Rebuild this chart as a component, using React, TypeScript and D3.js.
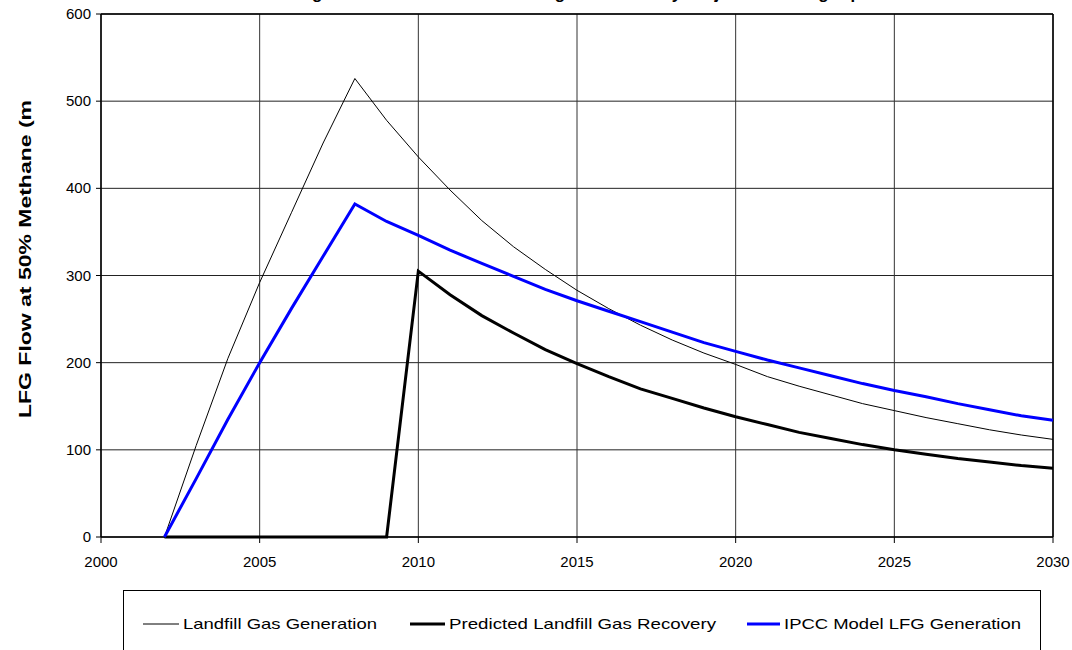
import React from "react";
import * as d3 from "d3";

const years = d3.range(2002, 2031);
const generation = [0, 105, 205, 292, 372, 452, 526, 478, 436, 398, 363, 333, 307, 283, 262, 243, 226, 211, 198, 184, 173, 163, 153, 145, 137, 130, 123, 117, 112];
const recovery = [0, 0, 0, 0, 0, 0, 0, 0, 305, 278, 254, 234, 215, 199, 184, 170, 159, 148, 138, 129, 120, 113, 106, 100, 95, 90, 86, 82, 79];
const ipcc = [0, 67, 135, 200, 262, 322, 382, 362, 346, 329, 314, 299, 284, 271, 259, 247, 235, 223, 213, 203, 194, 185, 176, 168, 161, 153, 146, 139, 134];
const xTicks = [2000, 2005, 2010, 2015, 2020, 2025, 2030];
const yTicks = [0, 100, 200, 300, 400, 500, 600];
const seriesNames = ["Landfill Gas Generation", "Predicted Landfill Gas Recovery", "IPCC Model LFG Generation"];

export default function App() {
  const W = 1072, H = 650;
  const x = d3.scaleLinear().domain([2000, 2030]).range([101, 1053]);
  const y = d3.scaleLinear().domain([0, 600]).range([537, 14]);
  const line = (vals: number[]) =>
    d3.line<number>().x((_, i) => x(years[i])).y((d) => y(d))(vals) || "";
  const font = "'Liberation Sans', Arial, sans-serif";
  const series = [
    { name: seriesNames[0], vals: generation, color: "#000", w: 1, lx: 143, tx: 183, tw: 194 },
    { name: seriesNames[1], vals: recovery, color: "#000", w: 3, lx: 410, tx: 449, tw: 267 },
    { name: seriesNames[2], vals: ipcc, color: "#0000ff", w: 3, lx: 747, tx: 784, tw: 237 },
  ];
  return (
    <svg width={W} height={H} style={{ position: "absolute", left: 0, top: 0, background: "#fff" }}>
      <rect x={0} y={0} width={W} height={H} fill="#fff" />
      <text x={576} y={-1} textAnchor="middle" fontFamily={font} fontWeight="bold" fontSize={17}>
        Figure 3: Landfill Gas Generating and Recovery Projections using Eq
      </text>
      {/* grid */}
      {yTicks.map((t) => (
        <line key={"gy" + t} x1={x(2000)} x2={x(2030)} y1={y(t)} y2={y(t)} stroke="#222" strokeWidth={1} />
      ))}
      {xTicks.map((t) => (
        <line key={"gx" + t} x1={x(t)} x2={x(t)} y1={y(0)} y2={y(600)} stroke="#333" strokeWidth={1} />
      ))}
      {/* frame */}
      <line x1={x(2000)} x2={x(2030)} y1={y(600)} y2={y(600)} stroke="#000" strokeWidth={1.5} />
      <line x1={x(2030)} x2={x(2030)} y1={y(600)} y2={y(0)} stroke="#000" strokeWidth={1.5} />
      <line x1={x(2000)} x2={x(2000)} y1={y(600)} y2={y(0)} stroke="#000" strokeWidth={1.5} />
      <line x1={x(2000)} x2={x(2030)} y1={y(0)} y2={y(0)} stroke="#000" strokeWidth={1.5} />
      {/* ticks */}
      {yTicks.map((t) => (
        <g key={"ty" + t}>
          <line x1={x(2000) - 5} x2={x(2000)} y1={y(t)} y2={y(t)} stroke="#000" />
          <text x={x(2000) - 10} y={y(t) + 5} textAnchor="end" fontFamily={font} fontSize={15}>{t}</text>
        </g>
      ))}
      {xTicks.map((t) => (
        <g key={"tx" + t}>
          <line x1={x(t)} x2={x(t)} y1={y(0)} y2={y(0) + 6} stroke="#000" />
          <text x={x(t)} y={567} textAnchor="middle" fontFamily={font} fontSize={15}>{t}</text>
        </g>
      ))}
      {/* y title */}
      <text transform={`translate(31,418) rotate(-90)`} fontFamily={font} fontWeight="bold" fontSize={16} textLength={318} lengthAdjust="spacingAndGlyphs">
        LFG Flow at 50% Methane (m
      </text>
      {/* series */}
      {series.map((s) => (
        <path key={s.name} d={line(s.vals)} fill="none" stroke={s.color} strokeWidth={s.w} strokeLinejoin="miter" />
      ))}
      {/* legend */}
      <rect x={123.5} y={590.5} width={917} height={80} fill="#fff" stroke="#000" strokeWidth={1} />
      {series.map((s) => (
        <g key={"lg" + s.name}>
          <line x1={s.lx} x2={s.tx - 4} y1={624} y2={624} stroke={s.color} strokeWidth={s.w} />
          <text x={s.tx} y={629} fontFamily={font} fontSize={15} textLength={s.tw} lengthAdjust="spacingAndGlyphs">{s.name}</text>
        </g>
      ))}
    </svg>
  );
}
